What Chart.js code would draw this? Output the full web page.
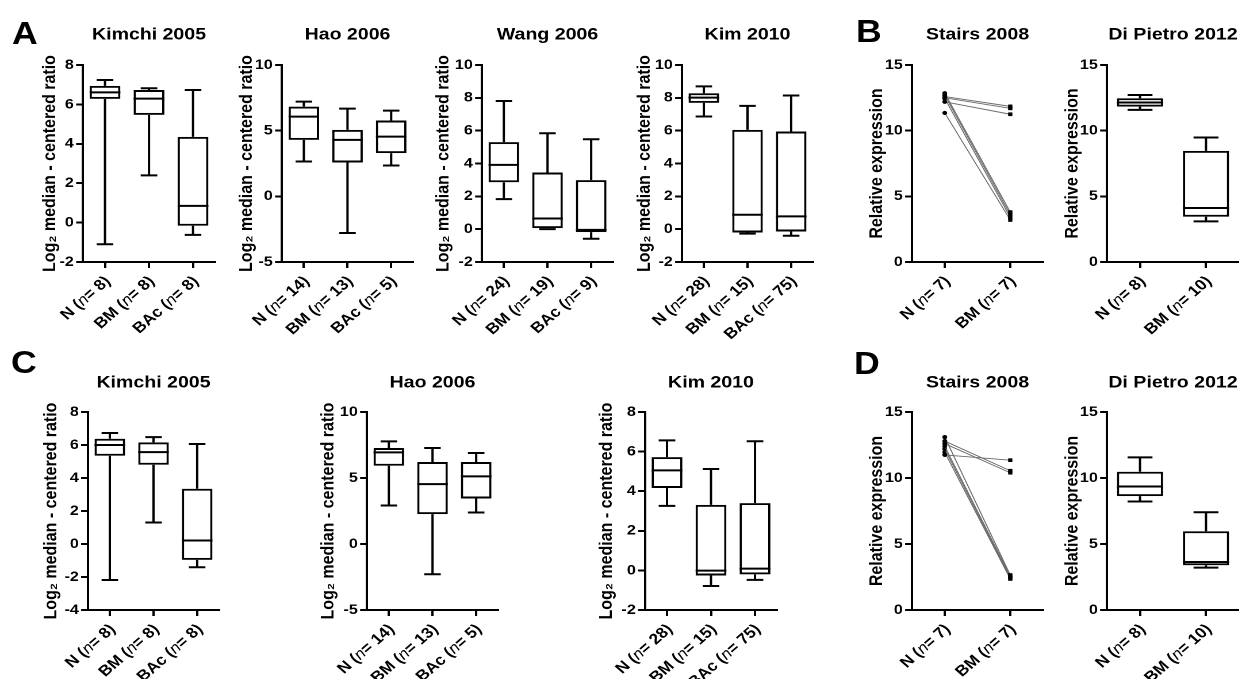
<!DOCTYPE html>
<html>
<head>
<meta charset="utf-8">
<script src="https://cdn.jsdelivr.net/npm/chart.js@4.4.0/dist/chart.umd.min.js"></script>
<style>
html,body{margin:0;padding:0;background:#fff;overflow:hidden;width:1239px;height:679px;}
#stage{position:absolute;left:0;top:0;height:679px;transform-origin:0 0;}
#stage canvas{position:absolute;}
.letter{position:absolute;font-family:"Liberation Sans",Arial,Helvetica,sans-serif;font-weight:bold;font-size:31px;line-height:1;color:#000;}
</style>
</head>
<body>
<div id="stage"></div>
<script>
// ---------------- DATA ----------------
// box summaries: [min, Q1, median, Q3, max]
const catKimchiA = ['N (n= 8)', 'BM (n= 8)', 'BAc (n= 8)'];
const boxKimchiA = [[-1.1, 6.28, 6.61, 6.94, 7.24], [2.4, 5.47, 6.29, 6.73, 6.82], [-0.62, -0.16, 0.85, 4.35, 6.73]];

const catHaoA = ['N (n= 14)', 'BM (n= 13)', 'BAc (n= 5)'];
const boxHaoA = [[2.65, 4.3, 6.07, 6.83, 7.21], [-2.79, 2.58, 4.3, 5.06, 6.68], [2.35, 3.29, 4.55, 5.77, 6.53]];

const catWangA = ['N (n= 24)', 'BM (n= 19)', 'BAc (n= 9)'];
const boxWangA = [[1.83, 2.86, 3.92, 5.3, 7.81], [0, 0, 0.65, 3.45, 5.84], [-0.58, -0.18, -0.04, 2.99, 5.48]];

const catKimA = ['N (n= 28)', 'BM (n= 15)', 'BAc (n= 75)'];
const boxKimA = [[6.86, 7.69, 8.01, 8.28, 8.7], [-0.27, -0.2, 0.88, 6.05, 7.51], [-0.4, -0.14, 0.78, 5.95, 8.14]];

const catStairsB = ['N (n= 7)', 'BM (n= 7)'];
const stairsB_N = [12.6, 12.5, 12.2, 12.85, 12.7, 12.45, 11.35];
const stairsB_BM = [11.85, 11.7, 11.25, 3.8, 3.6, 3.4, 3.2];

const catDiPietroB = ['N (n= 8)', 'BM (n= 10)'];
const boxDiPietroB = [[11.58, 11.83, 12.14, 12.47, 12.72], [3.09, 3.45, 4.11, 8.46, 9.48]];

const catKimchiC = ['N (n= 8)', 'BM (n= 8)', 'BAc (n= 8)'];
const boxKimchiC = [[-2.18, 5.35, 6.0, 6.38, 6.73], [1.3, 4.8, 5.57, 6.16, 6.48], [-1.41, -0.96, 0.21, 3.35, 6.06]];

const catHaoC = ['N (n= 14)', 'BM (n= 13)', 'BAc (n= 5)'];
const boxHaoC = [[2.92, 5.93, 6.94, 7.27, 7.77], [-2.29, 2.26, 4.54, 6.21, 7.27], [2.39, 3.45, 5.12, 6.21, 6.89]];

const catKimC = ['N (n= 28)', 'BM (n= 15)', 'BAc (n= 75)'];
const boxKimC = [[3.26, 4.16, 5.05, 5.72, 6.57], [-0.79, -0.26, -0.01, 3.31, 5.12], [-0.48, -0.2, 0.09, 3.4, 6.52]];

const catStairsD = ['N (n= 7)', 'BM (n= 7)'];
const stairsD_N = [11.75, 12.8, 12.6, 13.1, 12.4, 12.2, 11.95];
const stairsD_BM = [11.35, 10.55, 10.4, 2.65, 2.55, 2.45, 2.35];

const catDiPietroD = ['N (n= 8)', 'BM (n= 10)'];
const boxDiPietroD = [[8.22, 8.63, 9.36, 10.47, 11.56], [3.21, 3.39, 3.64, 5.97, 7.41]];

const LOG2_TITLE = 'Log\u2082 median - centered ratio';
const REL_TITLE = 'Relative expression';

// ---------------- LAYOUT ----------------
const S = 1.15; // horizontal stretch of the original figure
const FONT = '"Liberation Sans", Arial, Helvetica, sans-serif';
const stage = document.getElementById('stage');
stage.style.width = (1239 / S) + 'px';
stage.style.transform = 'scaleX(' + S + ')';

const boxPlugin = {
  id: 'boxWhisker',
  afterDatasetsDraw(chart) {
    const ds = chart.data.datasets[0];
    if (!ds || !ds.summaries) return;
    const meta = chart.getDatasetMeta(0);
    const ys = chart.scales.y;
    const ctx = chart.ctx;
    const py = v => ys.getPixelForValue(v);
    ctx.save();
    ctx.strokeStyle = '#000';
    ctx.lineWidth = 2;
    meta.data.forEach((bar, i) => {
      const [mn, q1, md, q3, mx] = ds.summaries[i];
      const x = bar.x, hw = bar.width / 2, cw = bar.width * 0.27;
      ctx.beginPath();
      ctx.moveTo(x, py(q3)); ctx.lineTo(x, py(mx));
      ctx.moveTo(x - cw, py(mx)); ctx.lineTo(x + cw, py(mx));
      ctx.moveTo(x, py(q1)); ctx.lineTo(x, py(mn));
      ctx.moveTo(x - cw, py(mn)); ctx.lineTo(x + cw, py(mn));
      ctx.moveTo(x - hw, py(md)); ctx.lineTo(x + hw, py(md));
      ctx.stroke();
    });
    ctx.restore();
  }
};

const titlePlugin = {
  id: 'panelTitle',
  afterDraw(chart, args, opts) {
    if (!opts || !opts.text) return;
    const ca = chart.chartArea, ctx = chart.ctx;
    ctx.save();
    ctx.font = 'bold 17px ' + FONT;
    ctx.fillStyle = '#000';
    ctx.textAlign = 'center';
    ctx.textBaseline = 'middle';
    ctx.fillText(opts.text, (ca.left + ca.right) / 2, ca.top - opts.offset);
    ctx.restore();
  }
};

const xLabelPlugin = {
  id: 'xLabels',
  afterDraw(chart) {
    const sc = chart.scales.x, ctx = chart.ctx;
    const labels = chart.data.labels;
    const sz = 15;
    labels.forEach((lab, i) => {
      const x = sc.getPixelForTick(i);
      const k = lab.indexOf('(n');
      const parts = k >= 0
        ? [[lab.slice(0, k + 1), 'bold ' + sz + 'px ' + FONT], ['n', 'italic ' + sz + 'px ' + FONT], [lab.slice(k + 2), 'bold ' + sz + 'px ' + FONT]]
        : [[lab, 'bold ' + sz + 'px ' + FONT]];
      let total = 0;
      parts.forEach(p => { ctx.font = p[1]; total += ctx.measureText(p[0]).width; });
      ctx.save();
      ctx.fillStyle = '#000';
      ctx.textBaseline = 'middle';
      ctx.textAlign = 'left';
      ctx.translate(x + 2.6, sc.top + 17);
      ctx.rotate(-Math.PI / 4);
      let cx = -total;
      parts.forEach(p => { ctx.font = p[1]; ctx.fillText(p[0], cx, 0); cx += ctx.measureText(p[0]).width; });
      ctx.restore();
    });
  }
};

function axisCommon() {
  return {
    grid: { display: true, drawOnChartArea: false, drawTicks: true, tickLength: 6, color: '#000', lineWidth: 2, offset: false },
    border: { display: true, color: '#000', width: 2 }
  };
}

function makePanel(p) {
  const ax = p.axisX / S, rx = p.right / S;
  const plotW = rx - ax, plotH = p.bottom - p.top;
  const left = Math.round(ax - (p.tdist / S + 9.6));
  const yW = ax - left;
  const padTop = 45, xH = 78;
  const W = Math.ceil(yW + plotW) + 8;
  const padRight = W - yW - plotW;
  const H = padTop + plotH + xH;
  const c = document.createElement('canvas');
  c.width = W; c.height = H;
  c.style.left = left + 'px';
  c.style.top = (p.top - padTop) + 'px';
  stage.appendChild(c);

  let datasets, type;
  if (p.kind === 'box') {
    type = 'bar';
    datasets = [{
      data: p.box.map(s => [s[1], s[3]]),
      summaries: p.box,
      backgroundColor: '#fff',
      borderColor: '#000',
      borderWidth: 2,
      borderSkipped: false,
      barPercentage: 0.7,
      categoryPercentage: 1
    }];
  } else {
    type = 'line';
    datasets = p.n.map((v, i) => ({
      data: [v, p.bm[i]],
      borderColor: '#6a6a6a',
      borderWidth: 0.9,
      pointRadius: [2.1, 2.6],
      pointStyle: ['circle', 'rect'],
      pointBackgroundColor: '#000',
      pointBorderColor: '#000',
      pointBorderWidth: 0,
      tension: 0
    }));
  }

  const xAx = Object.assign(axisCommon(), {
    type: 'category', offset: true,
    ticks: { display: false },
    afterFit(s) { s.height = xH; }
  });
  const yAx = Object.assign(axisCommon(), {
    min: p.min, max: p.max,
    ticks: { stepSize: p.step, color: '#000', padding: 2, font: { family: FONT, size: 14, weight: 'bold' } },
    title: { display: true, text: p.ytitle, color: '#000', padding: 0, font: { family: FONT, size: 16, weight: 'bold' } },
    afterFit(s) { s.width = yW; }
  });

  new Chart(c, {
    type: type,
    data: { labels: p.labels, datasets: datasets },
    options: {
      responsive: false,
      animation: false,
      devicePixelRatio: 2,
      layout: { padding: { top: padTop, left: 0, right: padRight, bottom: 0 } },
      scales: { x: xAx, y: yAx },
      plugins: {
        legend: { display: false },
        tooltip: { enabled: false },
        title: { display: false },
        panelTitle: { text: p.title, offset: p.toff }
      }
    },
    plugins: [boxPlugin, titlePlugin, xLabelPlugin]
  });
}

const rowA = { top: 65, bottom: 262, toff: 30 };
const rowC = { top: 412, bottom: 610, toff: 29 };

const panels = [
  Object.assign({ kind: 'box', labels: catKimchiA, box: boxKimchiA, title: 'Kimchi 2005', ytitle: LOG2_TITLE, min: -2, max: 8, step: 2, axisX: 83, right: 215, tdist: 33 }, rowA),
  Object.assign({ kind: 'box', labels: catHaoA, box: boxHaoA, title: 'Hao 2006', ytitle: LOG2_TITLE, min: -5, max: 10, step: 5, axisX: 282, right: 413, tdist: 35 }, rowA),
  Object.assign({ kind: 'box', labels: catWangA, box: boxWangA, title: 'Wang 2006', ytitle: LOG2_TITLE, min: -2, max: 10, step: 2, axisX: 482, right: 613, tdist: 38 }, rowA),
  Object.assign({ kind: 'box', labels: catKimA, box: boxKimA, title: 'Kim 2010', ytitle: LOG2_TITLE, min: -2, max: 10, step: 2, axisX: 682, right: 813, tdist: 37 }, rowA),
  Object.assign({ kind: 'pair', labels: catStairsB, n: stairsB_N, bm: stairsB_BM, title: 'Stairs 2008', ytitle: REL_TITLE, min: 0, max: 15, step: 5, axisX: 912, right: 1043, tdist: 35 }, rowA),
  Object.assign({ kind: 'box', labels: catDiPietroB, box: boxDiPietroB, title: 'Di Pietro 2012', ytitle: REL_TITLE, min: 0, max: 15, step: 5, axisX: 1107, right: 1239, tdist: 35 }, rowA),
  Object.assign({ kind: 'box', labels: catKimchiC, box: boxKimchiC, title: 'Kimchi 2005', ytitle: LOG2_TITLE, min: -4, max: 8, step: 2, axisX: 88, right: 219, tdist: 37 }, rowC),
  Object.assign({ kind: 'box', labels: catHaoC, box: boxHaoC, title: 'Hao 2006', ytitle: LOG2_TITLE, min: -5, max: 10, step: 5, axisX: 367, right: 498, tdist: 38 }, rowC),
  Object.assign({ kind: 'box', labels: catKimC, box: boxKimC, title: 'Kim 2010', ytitle: LOG2_TITLE, min: -2, max: 8, step: 2, axisX: 645, right: 777, tdist: 38 }, rowC),
  Object.assign({ kind: 'pair', labels: catStairsD, n: stairsD_N, bm: stairsD_BM, title: 'Stairs 2008', ytitle: REL_TITLE, min: 0, max: 15, step: 5, axisX: 912, right: 1043, tdist: 35 }, rowC),
  Object.assign({ kind: 'box', labels: catDiPietroD, box: boxDiPietroD, title: 'Di Pietro 2012', ytitle: REL_TITLE, min: 0, max: 15, step: 5, axisX: 1107, right: 1239, tdist: 35 }, rowC)
];
panels.forEach(makePanel);

// panel letters
[['A', 12, 18], ['B', 856, 16], ['C', 11, 347], ['D', 854, 348]].forEach(([t, x, y]) => {
  const d = document.createElement('div');
  d.className = 'letter';
  d.textContent = t;
  d.style.left = (x / S) + 'px';
  d.style.top = y + 'px';
  stage.appendChild(d);
});
</script>
</body>
</html>
